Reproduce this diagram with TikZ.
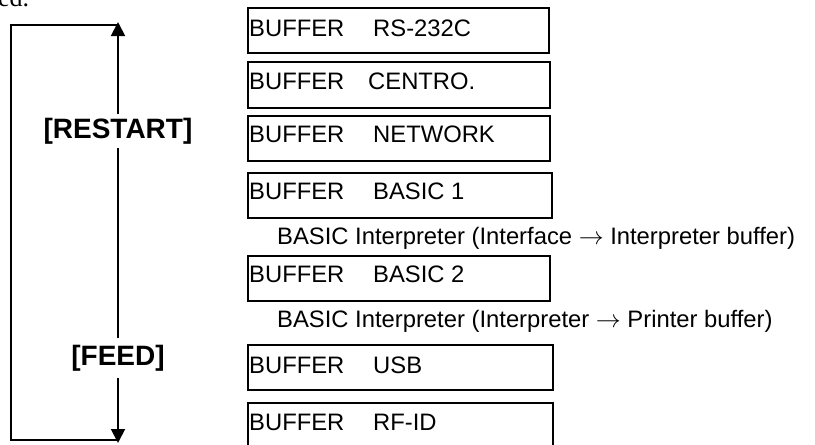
\documentclass[tikz,border=0pt]{standalone}
\usepackage{fontspec}
\setmainfont{Liberation Sans}
\newfontfamily\serifface{Liberation Serif}
\usetikzlibrary{arrows.meta}
\tikzset{
  ln/.style={line width=1.9pt, line cap=butt},
  arr/.style={ln, -{Triangle[length=14pt,width=14pt]}},
  bufbox/.style={draw, line width=1.8pt, anchor=north west, inner sep=0pt, minimum height=45pt},
  buftxt/.style={anchor=base west, inner sep=0pt, font=\fontsize{23.8}{28}\selectfont},
  keytxt/.style={anchor=base, inner xsep=0pt, font=\fontsize{28}{32}\selectfont\bfseries}
}
\begin{document}
\begin{tikzpicture}[x=1pt,y=-1pt]
\useasboundingbox (0,0) rectangle (815,445);
% cropped page text
\node[anchor=base west, inner sep=0pt, font=\fontsize{26}{30}\selectfont\serifface] (ed) at (-2,6) {ed.};
% boxes
\node[bufbox, minimum width=301pt] (b1) at (247,7) {};
\node[bufbox, minimum width=302pt, minimum height=46pt] (b2) at (247,61) {};
\node[bufbox, minimum width=302pt] (b3) at (247,115) {};
\node[bufbox, minimum width=304pt] (b4) at (247,172) {};
\node[bufbox, minimum width=302pt] (b5) at (247,255) {};
\node[bufbox, minimum width=305pt] (b6) at (247,344) {};
\node[bufbox, minimum width=305pt, minimum height=60pt] (b7) at (247,402) {};
% box texts
\node[buftxt] (t1a) at (249,36) {BUFFER};
\node[buftxt] (t1b) at (373,36) {RS-232C};
\node[buftxt] (t2a) at (249,89) {BUFFER};
\node[buftxt] (t2b) at (368,89) {CENTRO.};
\node[buftxt] (t3a) at (249,142) {BUFFER};
\node[buftxt] (t3b) at (373,142) {NETWORK};
\node[buftxt] (t4a) at (249,199) {BUFFER};
\node[buftxt] (t4b) at (373,199) {BASIC 1};
\node[buftxt] (t5a) at (249,282) {BUFFER};
\node[buftxt] (t5b) at (373,282) {BASIC 2};
\node[buftxt] (t6a) at (249,373) {BUFFER};
\node[buftxt] (t6b) at (373,373) {USB};
\node[buftxt] (t7a) at (249,430) {BUFFER};
\node[buftxt] (t7b) at (373,430) {RF-ID};
\node[buftxt] (i1) at (277,244) {BASIC Interpreter (Interface $\rightarrow$ Interpreter buffer)};
\node[buftxt] (i2) at (277,327) {BASIC Interpreter (Interpreter $\rightarrow$ Printer buffer)};
% keys and loop
\node[keytxt, inner ysep=4pt] (restart) at (118,138) {[RESTART]};
\node[keytxt, inner ysep=6.5pt] (feed) at (118,365) {[FEED]};
\coordinate (tr) at (118,22);
\coordinate (tl) at (11,25);
\coordinate (bl) at (11,440);
\coordinate (br) at (118,443);
\draw[arr] (restart.north) -- (tr);
\draw[ln] (tr |- tl) -- (tl) -- (bl) -- (br |- bl);
\draw[ln] (restart.south) -- (feed.north);
\draw[arr] (feed.south) -- (br);
\end{tikzpicture}
\end{document}
